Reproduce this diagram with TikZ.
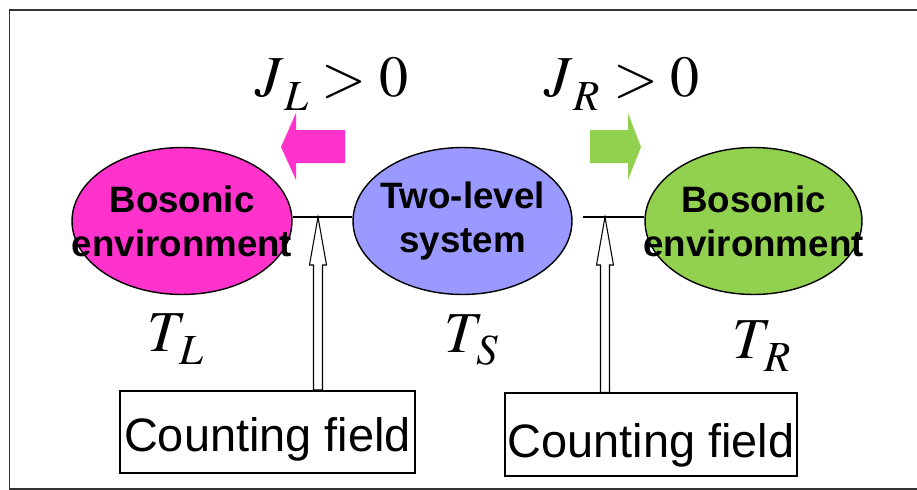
\documentclass[tikz,border=0pt]{standalone}
\usepackage{mathptmx}
\usepackage{fontspec}
\setsansfont{Liberation Sans}
\usepackage{tikz}
\usetikzlibrary{calc}
\usetikzlibrary{shapes.geometric,positioning}
\definecolor{bosonpink}{RGB}{255,51,204}
\definecolor{systemblue}{RGB}{153,153,255}
\definecolor{bosongreen}{RGB}{146,208,80}
\newcommand{\lowsub}[2]{\,\raisebox{#1}{$\scriptstyle #2$}}
\tikzset{
    reservoir/.style={
        ellipse,
        draw=black,
        line width=0.8pt,
        minimum width=4.4cm,
        minimum height=2.94cm,
        inner sep=0pt
    },
    % text inside the ellipses
    ellipsetext/.style={
        font=\sffamily\bfseries\fontsize{20.9}{25}\selectfont,
        align=center,
        inner sep=0pt
    },
    countbox/.style={
        draw=black,
        line width=1pt,
        minimum height=1.65cm,
        inner sep=0pt
    },
    counttext/.style={
        font=\sffamily\fontsize{26.7}{30}\selectfont,
        inner sep=0pt
    },
    hollowarrow/.style={
        draw=black,
        fill=white,
        line width=0.6pt,
        line join=miter
    },
    mathlabel/.style={
        font=\fontsize{33}{36}\selectfont,
        inner sep=0pt
    }
}

\begin{document}
\begin{tikzpicture}[x=0.02cm, y=-0.02cm]
	\useasboundingbox (0,0) rectangle (917,490);
	\draw[line width=1.1pt, black!80] (917,10) -- (9.5,10) -- (9.5,489) -- (917,489);

	\node[reservoir, fill=bosonpink, label={[ellipsetext]center:{Bosonic\\environment}}] (envl) at (182,221) {};
	\node[reservoir, fill=systemblue, minimum width=4.38cm, label={[ellipsetext]center:{Two-level\\system}}] (sys) at (462.5,221) {};
	\node[reservoir, fill=bosongreen, minimum width=4.34cm, label={[ellipsetext]center:{Bosonic\\environment}}] (envr) at (753.5,221) {};

	\coordinate (rstart) at (583,217);
	\draw[line width=0.8pt] (envl.east |- 0,217) -- (sys.west |- 0,217);
	\draw[line width=0.8pt] (rstart) -- (envr.west |- rstart);

	% heat currents
	\fill[bosonpink] (281,147) -- (296,113) -- (296,130) -- (345,130) -- (345,163) -- (296,163) -- (296,180) -- cycle;
	\fill[bosongreen] (641,147) -- (628,113) -- (628,130) -- (590,130) -- (590,163) -- (628,163) -- (628,180) -- cycle;

	\node[mathlabel] (jl) at (332,84) {$J_{\lowsub{-0.12cm}{L}} > 0$};
	\node[mathlabel] (jr) at (622,84) {$J_{\lowsub{-0.12cm}{R}} > 0$};

	\node[mathlabel] (tl) at (176,339) {$T_{\lowsub{-0.08cm}{L}}$};
	\node[mathlabel] (ts) at (472,340) {$T_{\lowsub{-0.08cm}{S}}$};
	\node[mathlabel] (tr) at (762,346) {$T_{\lowsub{-0.08cm}{R}}$};

	% counting fields
	\node[countbox, minimum width=5.9cm, label={[counttext, yshift=-0.15cm]center:Counting field}] (lbox) at (267.5,432) {};
	\node[countbox, minimum width=5.84cm, label={[counttext, yshift=-0.22cm]center:Counting field}] (rbox) at (651,434.5) {};

	\coordinate (ltip) at (318,217);
	\coordinate (rtip) at (605,217);
	\draw[hollowarrow] (ltip) -- ++(-8.5,48) -- ++(4,0) -- ($(ltip |- lbox.north)+(-4.5,0)$) -- ++(9,0) -- ($(ltip)+(4.5,48)$) -- ++(4,0) -- cycle;
	\draw[hollowarrow] (rtip) -- ++(-8.5,48) -- ++(4,0) -- ($(rtip |- rbox.north)+(-4.5,0)$) -- ++(9,0) -- ($(rtip)+(4.5,48)$) -- ++(4,0) -- cycle;
\end{tikzpicture}
\end{document}
